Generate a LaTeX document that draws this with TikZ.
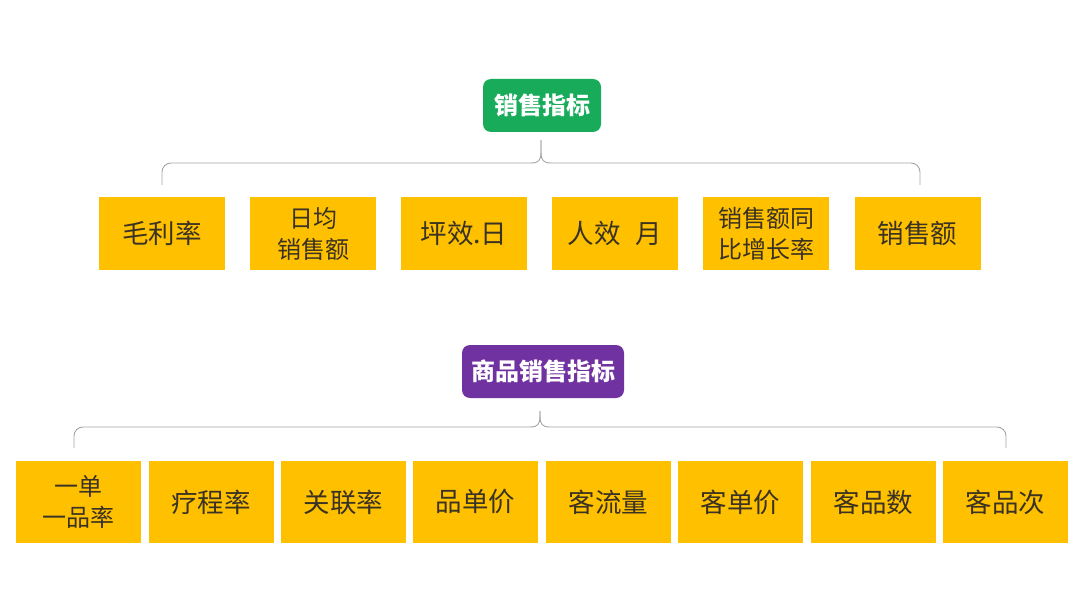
\documentclass[tikz,border=0pt]{standalone}
\usepackage{fontspec}
\setmainfont{Noto Sans CJK SC}
\usetikzlibrary{calc}
\definecolor{rootgreen}{RGB}{24,172,90}
\definecolor{rootpurple}{RGB}{112,50,160}
\definecolor{leafyellow}{RGB}{255,192,0}
\definecolor{leaftext}{RGB}{58,50,34}
\definecolor{bracegray}{RGB}{165,165,165}
\tikzset{
  rootbox/.style={rounded corners=8pt, inner sep=0pt, text=white,
    font=\fontsize{24}{24}\selectfont\bfseries},
  leaf/.style={fill=leafyellow, inner sep=0pt, align=center, text=leaftext,
    font=\fontsize{26.5}{31}\selectfont},
  leafsmall/.style={leaf, font=\fontsize{24}{31}\selectfont},
  topleaf/.style={minimum width=126pt, minimum height=73pt},
  botleaf/.style={minimum width=125pt, minimum height=82pt},
  brace/.style={draw=bracegray, line width=0.9pt},
}
\begin{document}
\begin{tikzpicture}[x=1pt,y=-1pt]
\fill[white] (0,0) rectangle (1080,607);
\useasboundingbox (0,0) rectangle (1080,607);

% top group
\node[rootbox, fill=rootgreen, minimum width=118pt, minimum height=53pt] (troot) at (542,105.5) {销售指标};
\node[leaf, topleaf] (t1) at (162,233.5) {毛利率};
\node[leafsmall, topleaf] (t2) at (313,233.5) {日均\\销售额};
\node[leaf, topleaf] (t3) at (464,233.5) {坪效.日};
\node[leaf, topleaf] (t4) at (615,233.5) {人效\hspace{0.55em}月};
\node[leafsmall, topleaf] (t5) at (766,233.5) {销售额同\\比增长率};
\node[leaf, topleaf] (t6) at (917.5,233.5) {销售额};

\coordinate (tL) at ($(t1.north)+(0,-12)$);
\coordinate (tR) at ($(t6.north)+(2.5,-12)$);
\coordinate (tP) at ($(troot.south)+(-1,8)$);
\coordinate (tH) at (tP |- 0,163);
\draw[brace, rounded corners=9pt] (tL) -- (tL |- tH) -- ($(tH)+(-10,0)$);
\draw[brace] ($(tH)+(-10,0)$) .. controls ($(tH)+(-2,0)$) and ($(tH)+(0,-3)$) .. ($(tH)+(0,-11)$) -- (tP);
\draw[brace] (tP) -- ($(tH)+(0,-11)$) .. controls ($(tH)+(0,-3)$) and ($(tH)+(2,0)$) .. ($(tH)+(10,0)$);
\draw[brace, rounded corners=9pt] ($(tH)+(10,0)$) -- (tR |- tH) -- (tR);

% bottom group
\node[rootbox, fill=rootpurple, minimum width=162pt, minimum height=53pt] (broot) at (543,371.5) {商品销售指标};
\node[leafsmall, botleaf] (b1) at (78.5,502) {一单\\一品率};
\node[leaf, botleaf] (b2) at (211,502) {疗程率};
\node[leaf, botleaf] (b3) at (343.5,502) {关联率};
\node[leaf, botleaf] (b4) at (475.5,502) {品单价};
\node[leaf, botleaf] (b5) at (608.5,502) {客流量};
\node[leaf, botleaf] (b6) at (740.5,502) {客单价};
\node[leaf, botleaf] (b7) at (873.5,502) {客品数};
\node[leaf, botleaf] (b8) at (1005.5,502) {客品次};

\coordinate (bL) at ($(b1.north)+(-4.5,-13)$);
\coordinate (bR) at ($(b8.north)+(0.5,-13)$);
\coordinate (bP) at ($(broot.south)+(-3,13)$);
\coordinate (bH) at (bP |- 0,427);
\draw[brace, rounded corners=9pt] (bL) -- (bL |- bH) -- ($(bH)+(-10,0)$);
\draw[brace] ($(bH)+(-10,0)$) .. controls ($(bH)+(-2,0)$) and ($(bH)+(0,-3)$) .. ($(bH)+(0,-11)$) -- (bP);
\draw[brace] (bP) -- ($(bH)+(0,-11)$) .. controls ($(bH)+(0,-3)$) and ($(bH)+(2,0)$) .. ($(bH)+(10,0)$);
\draw[brace, rounded corners=9pt] ($(bH)+(10,0)$) -- (bR |- bH) -- (bR);
\end{tikzpicture}
\end{document}
